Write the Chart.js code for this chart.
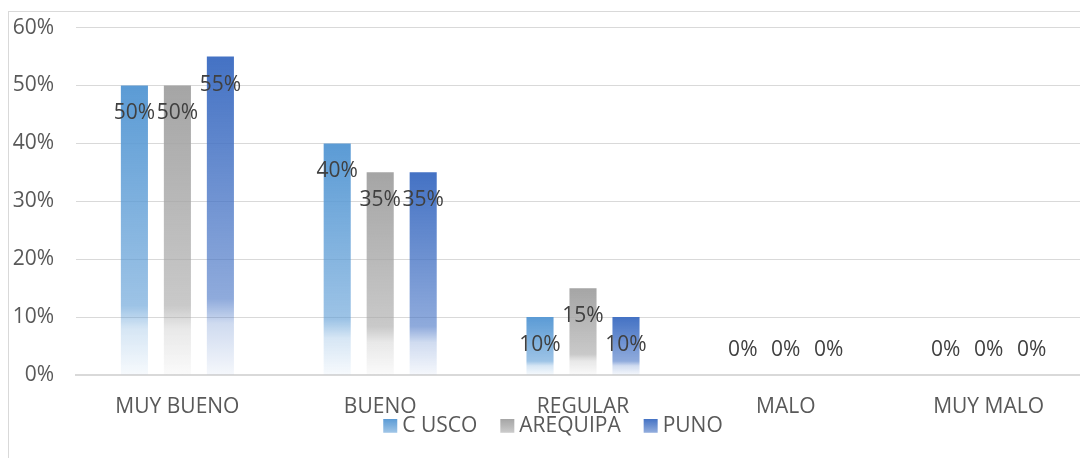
<!DOCTYPE html>
<html>
<head>
<meta charset="utf-8">
<script src="https://cdn.jsdelivr.net/npm/chart.js@4.4.0/dist/chart.umd.min.js"></script>
<style>
  html, body { margin: 0; padding: 0; background: #fff; overflow: hidden; }
  #marco {
    position: absolute; left: 8px; top: 11px; width: 1110px; height: 470px;
    border-left: 1px solid #d9d9d9; border-top: 1px solid #d9d9d9;
  }
  #grafico { position: absolute; left: 9px; top: -7px; }
</style>
</head>
<body>
<div id="marco"></div>
<canvas id="grafico" width="1090" height="465"></canvas>
<script>
const categorias = ['MUY BUENO', 'BUENO', 'REGULAR', 'MALO', 'MUY MALO'];
const cusco = [0.50, 0.40, 0.10, 0, 0];
const arequipa = [0.50, 0.35, 0.15, 0, 0];
const puno = [0.55, 0.35, 0.10, 0, 0];
const nombresSeries = ['C USCO', 'AREQUIPA', 'PUNO'];
const coloresSeries = ['#5B9BD5', '#A5A5A5', '#4472C4'];

function rgba(hex, a) {
    const n = parseInt(hex.slice(1), 16);
    return 'rgba(' + (n >> 16) + ',' + ((n >> 8) & 255) + ',' + (n & 255) + ',' + a + ')';
}

function pintarDegradado(c, color, arriba, abajo) {
    const g = c.createLinearGradient(0, arriba, 0, abajo);
    g.addColorStop(0, rgba(color, 1));
    g.addColorStop(0.76, rgba(color, 0.6));
    g.addColorStop(0.84, rgba(color, 0.25));
    g.addColorStop(1, rgba(color, 0.05));
    return g;
}

// degradado por barra: color arriba, se desvanece hacia abajo
function degradado(color) {
    return function (ctx) {
        const chart = ctx.chart;
        if (!chart.chartArea || ctx.type !== 'data') return color;
        const y = chart.scales.y;
        const arriba = y.getPixelForValue(ctx.raw);
        const abajo = y.getPixelForValue(0);
        if (abajo - arriba < 1) return color;
        return pintarDegradado(chart.ctx, color, arriba, abajo);
    };
}

const etiquetas = {
    id: 'etiquetas',
    afterDatasetsDraw(chart) {
        const c = chart.ctx;
        c.save();
        c.font = '21px "Open Sans"';
        c.fillStyle = '#404040';
        c.textAlign = 'center';
        c.textBaseline = 'middle';
        chart.data.datasets.forEach((ds, i) => {
            chart.getDatasetMeta(i).data.forEach((bar, j) => {
                const v = ds.data[j];
                const y = v > 0 ? bar.y + 28 : bar.y - 25;
                c.fillText(Math.round(v * 100) + '%', bar.x, y);
            });
        });
        c.restore();
    }
};

// leyenda inferior, pegada a las etiquetas del eje
const leyenda = {
    id: 'leyenda',
    afterDraw(chart) {
        const c = chart.ctx;
        c.save();
        c.font = '21px "Open Sans"';
        c.textBaseline = 'middle';
        const caja = 14, hueco = 5, sep = 23;
        const anchos = nombresSeries.map(t => c.measureText(t).width);
        const total = anchos.reduce((a, w) => a + caja + hueco + w, 0) + sep * (nombresSeries.length - 1);
        let x = 544 - total / 2;
        const yc = chart.scales.x.top + 51;
        nombresSeries.forEach((t, i) => {
            c.fillStyle = pintarDegradado(c, coloresSeries[i], yc - caja / 2, yc + caja / 2 + 3);
            c.fillRect(x, yc - caja / 2, caja, caja);
            x += caja + hueco;
            c.fillStyle = '#595959';
            c.fillText(t, x, yc);
            x += anchos[i] + sep;
        });
        c.restore();
    }
};

new Chart(document.getElementById('grafico'), {
    type: 'bar',
    data: {
        labels: categorias,
        datasets: nombresSeries.map((nombre, i) => ({
            label: nombre,
            data: [cusco, arequipa, puno][i],
            backgroundColor: degradado(coloresSeries[i]),
            borderWidth: 0,
            categoryPercentage: 0.636,
            barPercentage: 0.63
        }))
    },
    options: {
        responsive: false,
        animation: false,
        layout: { padding: { left: 0, right: 9, top: 14, bottom: 33 } },
        scales: {
            y: {
                min: 0, max: 0.6,
                ticks: {
                    stepSize: 0.1,
                    padding: 22,
                    color: '#595959',
                    font: { family: 'Open Sans', size: 21 },
                    callback: v => Math.round(v * 100) + '%'
                },
                grid: { color: '#d9d9d9', drawTicks: false },
                border: { display: false },
                afterFit: s => { s.width = 67; }
            },
            x: {
                ticks: {
                    padding: 19,
                    color: '#595959',
                    font: { family: 'Open Sans', size: 21 }
                },
                grid: { display: false, drawTicks: false },
                border: { color: '#d9d9d9', width: 2 },
                afterFit: s => { s.height = 50; }
            }
        },
        plugins: {
            legend: { display: false },
            tooltip: { enabled: false }
        }
    },
    plugins: [etiquetas, leyenda]
});
</script>
</body>
</html>
